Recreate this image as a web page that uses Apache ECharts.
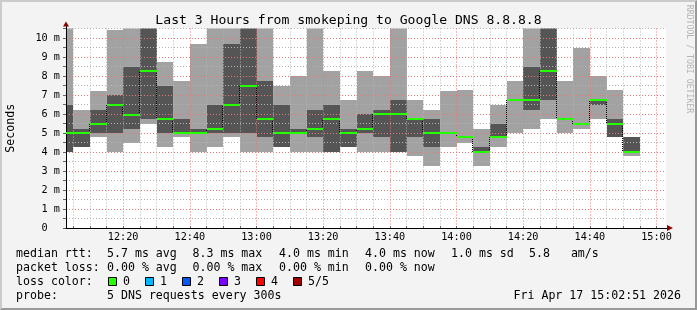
<!DOCTYPE html>
<html>
<head>
<meta charset="utf-8">
<script src="https://cdn.jsdelivr.net/npm/echarts@6/dist/echarts.min.js"></script>
<style>
html,body{margin:0;padding:0;background:#f3f3f3;}
#chart{position:absolute;left:0;top:0;width:697px;height:310px;}
#frame{position:absolute;left:0;top:0;width:697px;height:310px;box-sizing:border-box;
  border-top:2px solid #cbcbcb;border-left:2px solid #cbcbcb;border-right:2px solid #999;border-bottom:2px solid #999;pointer-events:none;}
</style>
</head>
<body>
<div id="chart"></div>
<div id="frame"></div>
<script>
// ---------------- data ----------------
const graphStart = '12:02:51';
const graphEnd = '15:02:51';
const slotEnds = ['12:05','12:10','12:15','12:20','12:25','12:30','12:35','12:40','12:45','12:50',
  '12:55','13:00','13:05','13:10','13:15','13:20','13:25','13:30','13:35','13:40',
  '13:45','13:50','13:55','14:00','14:05','14:10','14:15','14:20','14:25','14:30',
  '14:35','14:40','14:45','14:50','14:55'];
// sorted DNS request times per 5-minute slot (ms)
const pingMin = [4.0,4.24,4.77,4.0,4.49,5.49,4.24,4.77,4.0,4.24,4.77,4.0,4.0,4.24,4.0,4.0,4.0,4.24,4.0,4.0,
  4.0,3.77,3.24,4.24,4.49,3.24,4.24,5.0,5.23,5.75,5.0,5.23,5.75,4.77,3.77];
const ping2 = [4.0,4.24,5.0,5.0,5.23,5.75,5.0,5.0,5.0,5.0,5.0,5.0,4.77,4.24,5.0,4.77,4.0,4.24,5.0,4.77,
  4.0,4.77,4.24,5.0,4.77,4.0,4.77,6.75,6.23,6.75,5.75,5.49,6.49,4.77,4.0];
const medianRtt = [5.0,5.0,5.49,6.49,5.96,8.28,5.75,5.0,5.0,5.23,6.49,7.49,5.75,5.0,5.0,5.23,5.75,5.0,5.23,6.0,
  6.0,5.75,5.0,5.0,4.77,4.0,4.77,6.75,6.75,8.28,5.75,5.49,6.75,5.49,4.0];
const ping4 = [6.49,5.23,6.23,7.01,8.49,11,7.49,5.75,5.23,6.49,9.7,11,7.75,6.49,5.23,6.23,6.49,5.23,6.0,6.23,
  6.75,5.75,5.75,5.0,4.77,4.24,5.49,6.75,8.45,11,5.75,5.49,6.75,5.75,4.77];
const pingMax = [11,6.23,7.22,10.44,11,11,8.73,7.75,9.7,11,11,11,11,7.49,7.98,11,8.28,6.75,8.28,7.98,
  11,6.75,6.23,7.22,7.28,5.23,6.49,7.75,11,11,7.75,9.49,8.0,7.28,4.77];

const xTickLabels = ['12:20','12:40','13:00','13:20','13:40','14:00','14:20','14:40','15:00'];
const yTickLabels = ['0  ','1 m','2 m','3 m','4 m','5 m','6 m','7 m','8 m','9 m','10 m'];

const titleText = 'Last 3 Hours from smokeping to Google DNS 8.8.8.8';
const rttLabel = 'median rtt:';
const rttStats = ['5.7 ms avg','8.3 ms max','4.0 ms min','4.0 ms now','1.0 ms sd','5.8   am/s'];
const lossLabel = 'packet loss:';
const lossStats = ['0.00 % avg','0.00 % max','0.00 % min','0.00 % now'];
const lossColorLabel = 'loss color:';
const lossNames = ['0','1','2','3','4','5/5'];
const lossColors = ['#26ff00','#00b8ff','#0059ff','#7e00ff','#ff0000','#a10000'];
const probeLabel = 'probe:';
const probeText = '5 DNS requests every 300s';
const dateText = 'Fri Apr 17 15:02:51 2026';
const watermark = 'RRDTOOL / TOBI OETIKER';

// ---------------- helpers / layout ----------------
function toMin(s){ const p = s.split(':').map(Number); return (p[0]-12)*60 + p[1] + (p[2]||0)/60; }
const tStart = toMin(graphStart), tEnd = toMin(graphEnd);
const FONT = '"DejaVu Sans Mono", "Liberation Mono", monospace';
const LIGHT = '#a2a2a2', DARK = '#555555';
const MAJOR = '#e87878', MINOR = '#b4b4b4';
const DOTS = [1,2];
const PLOT_L = 66, PLOT_W = 600, PLOT_TOP = 28.5, PLOT_H = 199.5, Y_MAX = 10.5;
const pxPerMin = PLOT_W / (tEnd - tStart);
const firstGrid = 5, lastGrid = 180;

const smokeData = slotEnds.map((e,i)=>[
  i===0 ? tStart : toMin(slotEnds[i-1]), toMin(e), pingMin[i], ping2[i], ping4[i], pingMax[i]]);
const medData = slotEnds.map((e,i)=>[i===0 ? tStart : toMin(slotEnds[i-1]), toMin(e), medianRtt[i]]);
const connData = slotEnds.slice(0,-1).map((e,i)=>[toMin(e), medianRtt[i], medianRtt[i+1]]);

function smokeItem(params, api){
  const xs = Math.round(api.coord([api.value(0),0])[0]);
  const xe = Math.round(api.coord([api.value(1),0])[0]);
  const y = k => Math.round(api.coord([0, api.value(k)])[1]);
  const y1=y(2), y2=y(3), y4=y(4), y5=y(5);
  return {type:'group', children:[
    {type:'rect', shape:{x:xs, y:y5, width:xe-xs, height:y1-y5}, style:{fill:LIGHT}},
    {type:'rect', shape:{x:xs, y:y4, width:xe-xs, height:y2-y4}, style:{fill:DARK}}
  ]};
}
function medItem(params, api){
  const xs = Math.round(api.coord([api.value(0),0])[0]);
  const xe = Math.round(api.coord([api.value(1),0])[0]);
  const yc = Math.round(api.coord([0, api.value(2)])[1]);
  return {type:'rect', shape:{x:xs, y:yc-1, width:xe-xs, height:2}, style:{fill:lossColors[0]}};
}
function connItem(params, api){
  const x = Math.round(api.coord([api.value(0),0])[0]) - 0.5;
  const ya = Math.round(api.coord([0, api.value(1)])[1]);
  const yb = Math.round(api.coord([0, api.value(2)])[1]);
  return {type:'line', shape:{x1:x, y1:ya, x2:x, y2:yb}, style:{stroke:'#000', lineWidth:1, lineDash:[1,1]}};
}

const gridBase = {outerBoundsMode:'none', containLabel:false, top:PLOT_TOP, height:PLOT_H};

const legendX = [16, 107, 192.5, 279, 365, 451, 529];
const rowY = [254, 268, 282, 296];
const txt = (text, x, y, extra) => Object.assign({type:'text', x:x, y:y, silent:true,
  style:{text:text, font:'11.6px ' + FONT, fill:'#000', textVerticalAlign:'middle', verticalAlign:'middle', textAlign:'left', align:'left'}}, extra||{});
const graphics = [];
graphics.push(txt(rttLabel, legendX[0], rowY[0]));
rttStats.forEach((s,i)=>graphics.push(txt(s, legendX[i+1], rowY[0])));
graphics.push(txt(lossLabel, legendX[0], rowY[1]));
lossStats.forEach((s,i)=>graphics.push(txt(s, legendX[i+1], rowY[1])));
graphics.push(txt(lossColorLabel, legendX[0], rowY[2]));
lossNames.forEach((n,i)=>{
  const bx = 108.5 + i*37;
  graphics.push({type:'rect', silent:true, shape:{x:bx, y:rowY[2]-4.5, width:8, height:8},
    style:{fill:lossColors[i], stroke:'#000', lineWidth:1}});
  graphics.push(txt(n, bx+14.5, rowY[2]));
});
graphics.push(txt(probeLabel, legendX[0], rowY[3]));
graphics.push(txt(probeText, legendX[1], rowY[3]));
graphics.push({type:'text', x:681, y:rowY[3], silent:true,
  style:{text:dateText, font:'11.6px ' + FONT, fill:'#000', textAlign:'right', align:'right', textVerticalAlign:'middle', verticalAlign:'middle'}});
graphics.push({type:'text', x:689, y:59, rotation:-Math.PI/2, silent:true,
  style:{text:watermark, font:'8.2px ' + FONT, fill:'#b4b4b4', textAlign:'center', align:'center', textVerticalAlign:'middle', verticalAlign:'middle'}});

const option = {
  backgroundColor:'#f3f3f3',
  animation:false,
  title:{text:titleText, left:'center', top:9,
    textStyle:{fontFamily:FONT, fontSize:13.1, fontWeight:'normal', color:'#000'}},
  grid:[
    Object.assign({}, gridBase, {left:PLOT_L, width:PLOT_W, show:true, backgroundColor:'#ffffff', borderWidth:0}),
    Object.assign({}, gridBase, {left:PLOT_L + (firstGrid - tStart)*pxPerMin, width:(lastGrid-firstGrid)*pxPerMin, show:false}),
    {outerBoundsMode:'none', containLabel:false, left:PLOT_L, top:24, width:604, height:204, show:false},
    {outerBoundsMode:'none', containLabel:false, left:PLOT_L, top:24, width:604, height:204, show:false}
  ],
  xAxis:[
    {gridIndex:0, type:'value', min:tStart, max:tEnd, axisLine:{show:false}, axisTick:{show:false}, axisLabel:{show:false}, splitLine:{show:false}},
    {gridIndex:1, type:'value', min:firstGrid, max:lastGrid, interval:5, z:3,
      axisLine:{show:false},
      axisTick:{show:true, inside:true, length:2, lineStyle:{color:'#666'}},
      axisLabel:{show:true, margin:4, fontFamily:FONT, fontSize:10.2, color:'#000',
        formatter:v=>{ const l = xTickLabels.find(s=>Math.abs(toMin(s)-v)<1e-6); return l||''; }},
      splitLine:{show:true, lineStyle:{color:[MINOR,MINOR,MINOR,MAJOR], width:1, type:DOTS}}},
    {gridIndex:2, type:'value', min:0, max:1, z:4, axisLine:{show:true, onZero:false, lineStyle:{color:'#000', width:1}},
      axisTick:{show:false}, axisLabel:{show:false}, splitLine:{show:false}},
    {gridIndex:3, type:'value', min:0, max:1, z:5, axisLine:{show:true, onZero:false, symbol:['none','triangle'], symbolSize:[6,6], lineStyle:{color:'#8b0000', width:0}},
      axisTick:{show:false}, axisLabel:{show:false}, splitLine:{show:false}}
  ],
  yAxis:[
    {gridIndex:0, type:'value', min:0, max:Y_MAX, interval:0.5, z:3,
      name:'Seconds', nameLocation:'middle', nameRotate:90, nameGap:49,
      nameTextStyle:{fontFamily:FONT, fontSize:11.6, color:'#000'},
      axisLine:{show:false},
      axisTick:{show:true, length:3, lineStyle:{color:'#666'}},
      axisLabel:{show:true, margin:6, fontFamily:FONT, fontSize:10.2, color:'#000',
        formatter:v=> Number.isInteger(v) ? yTickLabels[v] : ''},
      splitLine:{show:true, lineStyle:{color:[MAJOR,MINOR], width:1, type:DOTS}}},
    {gridIndex:1, type:'value', min:0, max:Y_MAX, show:false},
    {gridIndex:2, type:'value', min:0, max:1, z:4, axisLine:{show:true, onZero:false, lineStyle:{color:'#000', width:1}},
      axisTick:{show:false}, axisLabel:{show:false}, splitLine:{show:false}},
    {gridIndex:3, type:'value', min:0, max:1, z:5, axisLine:{show:true, onZero:false, symbol:['none','triangle'], symbolSize:[6,5], lineStyle:{color:'#8b0000', width:0}},
      axisTick:{show:false}, axisLabel:{show:false}, splitLine:{show:false}}
  ],
  series:[
    {type:'custom', name:'smoke', xAxisIndex:0, yAxisIndex:0, clip:true, z:2, silent:true,
      renderItem:smokeItem, data:smokeData},
    {type:'custom', name:'steps', xAxisIndex:0, yAxisIndex:0, clip:true, z:4, silent:true,
      renderItem:connItem, data:connData},
    {type:'custom', name:'median rtt', xAxisIndex:0, yAxisIndex:0, clip:true, z:5, silent:true,
      renderItem:medItem, data:medData}
  ],
  graphic:graphics
};
const chart = echarts.init(document.getElementById('chart'), null, {renderer:'canvas'});
chart.setOption(option);
</script>
</body>
</html>
